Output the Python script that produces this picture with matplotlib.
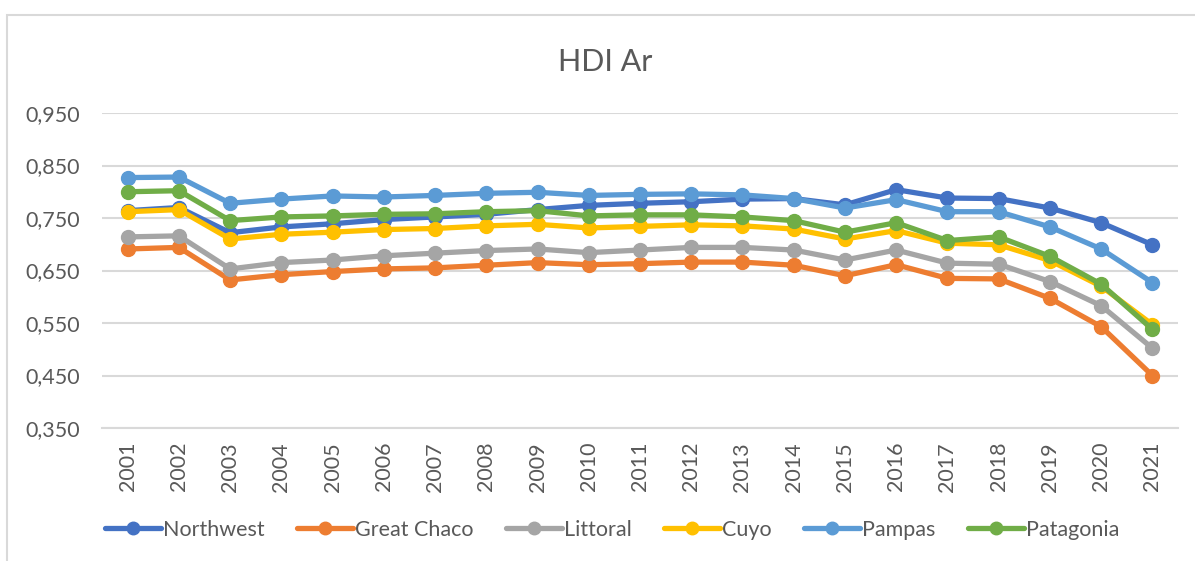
import matplotlib
matplotlib.use("Agg")
import matplotlib.pyplot as plt
import matplotlib.ticker as ticker
from matplotlib.patches import Rectangle

years = [str(y) for y in range(2001, 2022)]

northwest = [0.764, 0.770, 0.722, 0.733, 0.739, 0.747, 0.752, 0.757, 0.766, 0.774, 0.778, 0.781,
             0.786, 0.787, 0.775, 0.804, 0.788, 0.787, 0.769, 0.741, 0.699]
great_chaco = [0.691, 0.694, 0.632, 0.642, 0.648, 0.653, 0.655, 0.660, 0.665, 0.661, 0.663, 0.666,
               0.666, 0.660, 0.640, 0.661, 0.635, 0.634, 0.597, 0.543, 0.450]
littoral = [0.714, 0.716, 0.653, 0.665, 0.670, 0.678, 0.683, 0.688, 0.691, 0.684, 0.689, 0.694,
            0.694, 0.689, 0.670, 0.689, 0.664, 0.662, 0.629, 0.583, 0.502]
cuyo = [0.762, 0.766, 0.710, 0.719, 0.723, 0.728, 0.730, 0.735, 0.738, 0.731, 0.734, 0.737,
        0.735, 0.729, 0.710, 0.726, 0.702, 0.699, 0.669, 0.620, 0.547]
pampas = [0.827, 0.828, 0.778, 0.786, 0.792, 0.790, 0.793, 0.797, 0.799, 0.793, 0.795, 0.796,
          0.794, 0.787, 0.769, 0.785, 0.762, 0.762, 0.733, 0.691, 0.627]
patagonia = [0.800, 0.802, 0.745, 0.752, 0.754, 0.757, 0.758, 0.762, 0.764, 0.754, 0.756, 0.756,
             0.752, 0.745, 0.723, 0.741, 0.707, 0.714, 0.677, 0.624, 0.538]

series = {
    'Northwest': (northwest, '#4472C4'),
    'Great Chaco': (great_chaco, '#ED7D31'),
    'Littoral': (littoral, '#A5A5A5'),
    'Cuyo': (cuyo, '#FFC000'),
    'Pampas': (pampas, '#5B9BD5'),
    'Patagonia': (patagonia, '#70AD47'),
}

text_col = '#595959'
plt.rcParams['font.family'] = ['Lato', 'DejaVu Sans']

fig = plt.figure(figsize=(11.95, 5.61), dpi=100)
ax = fig.add_axes([102 / 1195, 1 - 428 / 561, 1076 / 1195, 315 / 561])

# chart area border
fig.patches.append(Rectangle((7 / 1195, -0.1), 1.2, 1.1 - 15 / 561, transform=fig.transFigure,
                             fill=False, edgecolor='#d9d9d9', linewidth=1.5))

x = list(range(len(years)))
for name, (vals, col) in series.items():
    ax.plot(x, vals, color=col, linewidth=3.8, marker='o', markersize=10,
            label=name, solid_capstyle='round')

ax.set_xlim(-0.5, len(years) - 0.5)
ax.set_ylim(0.35, 0.95)
ax.set_yticks([0.35, 0.45, 0.55, 0.65, 0.75, 0.85, 0.95])
ax.yaxis.set_major_formatter(ticker.FuncFormatter(lambda v, p: f"{v:.3f}".replace('.', ',')))
ax.set_xticks(x)
ax.set_xticklabels(years, rotation=90)
ax.grid(axis='y', color='#d9d9d9', linewidth=1.5)
ax.set_axisbelow(True)
for s in ['top', 'right', 'left']:
    ax.spines[s].set_visible(False)
ax.spines['bottom'].set_color('#d9d9d9')
ax.spines['bottom'].set_linewidth(1.5)
ax.tick_params(axis='both', length=0, labelsize=15.5, colors=text_col)
ax.tick_params(axis='y', pad=16)
ax.tick_params(axis='x', pad=10)

fig.text(605 / 1195, 1 - 62 / 561, 'HDI Ar', ha='center', va='center', fontsize=22, color=text_col)

fig.legend(loc='center', bbox_to_anchor=(612 / 1195, 1 - 530 / 561), ncol=6, frameon=False,
           fontsize=15.5, labelcolor=text_col, handlelength=2.6, handletextpad=0.1,
           columnspacing=1.5, markerscale=0.9)

fig.savefig('out.png', dpi=100)
